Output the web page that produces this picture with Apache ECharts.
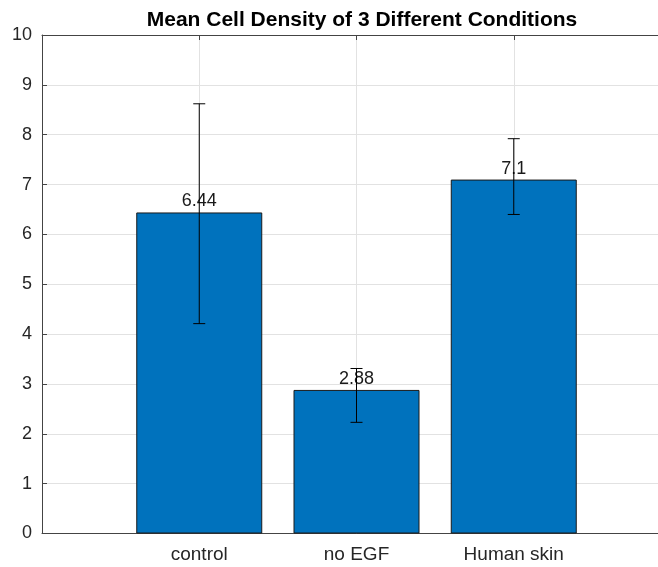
<!DOCTYPE html>
<html><head><meta charset="utf-8">
<script src="https://cdn.jsdelivr.net/npm/echarts@6/dist/echarts.min.js"></script>
<style>html,body{margin:0;padding:0;background:#fff;overflow:hidden;width:658px;height:567px}#c{width:675px;height:567px}</style>
</head><body><div id="c"></div>
<script>
const categories = ['control', 'no EGF', 'Human skin'];
const means = [6.44, 2.88, 7.1];
const errLow = [4.21, 2.23, 6.4];
const errHigh = [8.62, 3.31, 7.92];
const yMin = 0, yMax = 10, yStep = 1;
const titleText = 'Mean Cell Density of 3 Different Conditions';

const axisCats = [''].concat(categories).concat(['']);
const barData = ['-'].concat(means).concat(['-']);
const errData = means.map((m, i) => [i + 1, errLow[i], errHigh[i]]);

const FONT = 'Liberation Sans, Arial, Helvetica, sans-serif';
const chart = echarts.init(document.getElementById('c'), null, {renderer: 'canvas'});
chart.setOption({
  animation: false,
  backgroundColor: '#fff',
  title: {
    text: titleText, left: 357, top: 5, textAlign: 'center',
    textStyle: {fontFamily: FONT, fontSize: 21, fontWeight: 'bold', color: '#000'}
  },
  grid: {left: 42, top: 35, right: 4, bottom: 33.5, containLabel: false},
  xAxis: [{
    type: 'category', data: axisCats, boundaryGap: false, position: 'bottom',
    axisLine: {lineStyle: {color: '#444', width: 1}},
    axisTick: {inside: true, length: 5, lineStyle: {color: '#444'}},
    axisLabel: {interval: 0, fontFamily: FONT, fontSize: 19, color: '#262626', margin: 12},
    splitLine: {show: true, lineStyle: {color: '#e2e2e2', width: 1}}
  }, {
    type: 'category', data: axisCats, boundaryGap: false, position: 'top',
    axisLine: {lineStyle: {color: '#444', width: 1}},
    axisTick: {inside: true, length: 5, lineStyle: {color: '#444'}},
    axisLabel: {show: false}, splitLine: {show: false}
  }],
  yAxis: {
    type: 'value', min: yMin, max: yMax, interval: yStep,
    axisLine: {show: true, lineStyle: {color: '#444', width: 1}},
    axisTick: {show: true, inside: true, length: 5, lineStyle: {color: '#444'}},
    axisLabel: {fontFamily: FONT, fontSize: 18, color: '#262626', margin: 10},
    splitLine: {show: true, lineStyle: {color: '#e2e2e2', width: 1}}
  },
  series: [{
    type: 'bar', data: barData, barWidth: 126, z: 2,
    itemStyle: {color: '#0072BD', borderColor: '#1a1a1a', borderWidth: 1},
    label: {show: true, position: 'top', distance: 2, fontFamily: FONT, fontSize: 18, color: '#1a1a1a'}
  }, {
    type: 'custom', data: errData, z: 5,
    encode: {x: 0, y: [1, 2]},
    renderItem: function (params, api) {
      const x = api.value(0);
      const lo = api.coord([x, api.value(1)]);
      const hi = api.coord([x, api.value(2)]);
      const cw = 6;
      const st = {stroke: '#000', lineWidth: 1};
      return {type: 'group', children: [
        {type: 'line', shape: {x1: lo[0], y1: lo[1], x2: hi[0], y2: hi[1]}, style: st},
        {type: 'line', shape: {x1: lo[0] - cw, y1: lo[1], x2: lo[0] + cw, y2: lo[1]}, style: st},
        {type: 'line', shape: {x1: hi[0] - cw, y1: hi[1], x2: hi[0] + cw, y2: hi[1]}, style: st}
      ]};
    }
  }]
});
</script></body></html>
